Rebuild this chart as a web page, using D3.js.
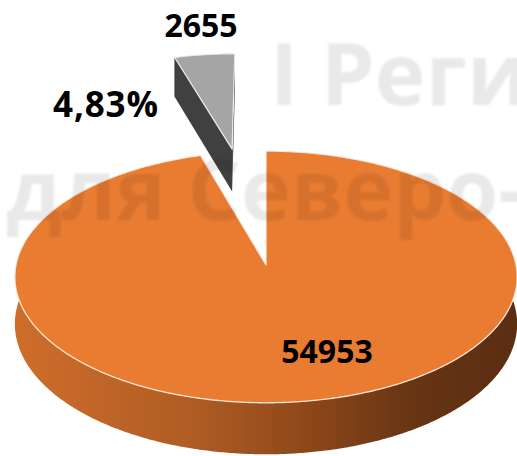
<!DOCTYPE html>
<html>
<head>
<meta charset="utf-8">
<script src="https://cdn.jsdelivr.net/npm/d3@7"></script>
<style>
  html, body { margin: 0; padding: 0; background: #fff; }
  svg { display: block; }
</style>
</head>
<body>
<svg id="mainsvg" width="517" height="456"></svg>
<script>
// data
const values = [54953, 2655];
const valueLabels = ["54953", "2655"];
const percentLabels = ["", "4,83%"];
const topColors = ["#e97c31", "#a5a5a5"];
const sideColors = ["#9a5121", "#404040"];
const explode = [0, 1.03];
const watermark = ["I Региональный", "для Северо-Запада"];

let svg = d3.select('#mainsvg');

// simple perspective for the tilted pie
const P = {cx: 266, cy: 265, sx: 250, k: 124.7, p: -0.095, d0: 46.6};
function proj(u, v, z) {
    const w = 1 + P.p * v;
    return [P.cx + P.sx * u / w, P.cy + (P.k * v + z * P.d0) / w];
}

const pie = d3.pie().sort(null).value(d => d);
const arcs = pie(values);

const defs = svg.append('defs');
const grad = defs.append('linearGradient')
    .attr('id', 'sideGrad')
    .attr('gradientUnits', 'userSpaceOnUse')
    .attr('x1', 14).attr('x2', 516).attr('y1', 0).attr('y2', 0);
grad.append('stop').attr('offset', '0%').attr('stop-color', '#cf6e2b');
grad.append('stop').attr('offset', '35%').attr('stop-color', '#b05c24');
grad.append('stop').attr('offset', '60%').attr('stop-color', '#8a4619');
grad.append('stop').attr('offset', '80%').attr('stop-color', '#673414');
grad.append('stop').attr('offset', '100%').attr('stop-color', '#5a2e12');

defs.append('filter').attr('id', 'soft')
    .append('feGaussianBlur').attr('stdDeviation', 0.9);

const line = d3.line();

function slicePaths(d, i) {
    const mid = (d.startAngle + d.endAngle) / 2;
    const ou = explode[i] * Math.sin(mid), ov = -explode[i] * Math.cos(mid);
    const pt = (a, r, z) => proj(ou + r * Math.sin(a), ov - r * Math.cos(a), z);
    const n = Math.max(8, Math.ceil((d.endAngle - d.startAngle) * 180 / Math.PI * 2));
    const angs = d3.range(n + 1).map(j => d.startAngle + (d.endAngle - d.startAngle) * j / n);
    const topArc = angs.map(a => pt(a, 1, 0));
    const botArc = angs.map(a => pt(a, 1, 1));
    return {
        wall: topArc.concat(botArc.slice().reverse()),
        sideA: [pt(0, 0, 0), pt(d.startAngle, 1, 0), pt(d.startAngle, 1, 1), pt(0, 0, 1)],
        sideB: [pt(0, 0, 0), pt(d.endAngle, 1, 0), pt(d.endAngle, 1, 1), pt(0, 0, 1)],
        top: [pt(0, 0, 0)].concat(topArc)
    };
}

const geo = arcs.map((d, i) => slicePaths(d, i));

// far slice first
const order = [1, 0];
const chart = svg.append('g');
order.forEach(i => {
    const g = chart.append('g');
    g.append('path').attr('d', line(geo[i].wall) + 'Z')
        .attr('fill', i === 0 ? 'url(#sideGrad)' : sideColors[i]);
    g.append('path').attr('d', line(geo[i].sideB) + 'Z').attr('fill', sideColors[i]);
    g.append('path').attr('d', line(geo[i].sideA) + 'Z').attr('fill', sideColors[i]);
    g.append('path').attr('d', line(geo[i].top) + 'Z')
        .attr('fill', topColors[i])
        .attr('stroke', '#fff5ec')
        .attr('stroke-opacity', 0.85)
        .attr('stroke-width', 1.3)
        .attr('stroke-linejoin', 'round');
});

// data labels
const font = "'Open Sans', 'DejaVu Sans', sans-serif";
svg.append('text')
    .attr('x', 327).attr('y', 363)
    .attr('text-anchor', 'middle')
    .attr('font-family', font).attr('font-weight', 700).attr('font-size', 32)
    .attr('fill', '#000')
    .text(valueLabels[0]);
svg.append('text')
    .attr('x', 201).attr('y', 37)
    .attr('text-anchor', 'middle')
    .attr('font-family', font).attr('font-weight', 700).attr('font-size', 32)
    .attr('fill', '#000')
    .text(valueLabels[1]);
svg.append('text')
    .attr('x', 53).attr('y', 117)
    .attr('font-family', font).attr('font-weight', 700).attr('font-size', 35)
    .attr('textLength', 105).attr('lengthAdjust', 'spacing')
    .attr('fill', '#000')
    .text(percentLabels[1]);

// watermark overlay
const wm = svg.append('g')
    .attr('filter', 'url(#soft)')
    .attr('fill', '#000')
    .attr('fill-opacity', 0.085)
    .attr('font-family', font)
    .attr('font-weight', 700);
wm.append('text').attr('x', 270).attr('y', 105).attr('font-size', 86).text(watermark[0]);
wm.append('text').attr('x', 6).attr('y', 220).attr('font-size', 84).text(watermark[1]);
</script>
</body>
</html>
